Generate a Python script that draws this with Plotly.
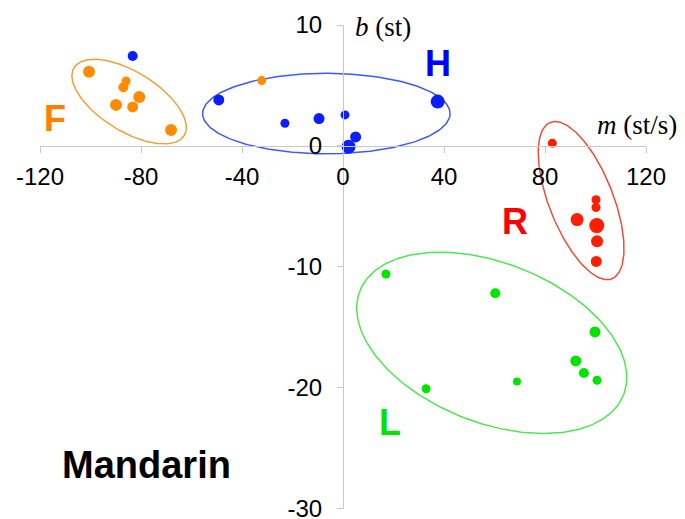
import numpy as np
import plotly.graph_objects as go

# Slope m (st/s) and intercept b (st) for each tone category
f_m = [-100.6, -85.9, -87.0, -80.7, -89.9, -83.3, -68.1, -32.2]
f_b = [6.14, 5.37, 4.85, 4.05, 3.39, 3.22, 1.32, 5.4]
f_size = [12, 9, 10, 12, 12, 11, 12, 9]

h_m = [-83.3, -49.2, -23.0, -9.5, 0.8, 5.0, 2.2, 37.5]
h_b = [7.44, 3.80, 1.87, 2.26, 2.56, 0.74, -0.08, 3.66]
h_size = [10, 11, 9, 11, 9, 11, 14, 14]

r_m = [82.9, 100.2, 100.2, 92.7, 100.5, 100.6, 100.3]
r_b = [0.22, -4.46, -5.1, -6.1, -6.6, -7.9, -9.56]
r_size = [9, 9, 9, 13, 15, 12, 11]

l_m = [17.0, 60.3, 99.8, 92.2, 95.4, 100.6, 68.9, 32.9]
l_b = [-10.6, -12.2, -15.4, -17.8, -18.8, -19.4, -19.5, -20.1]
l_size = [9, 10, 11, 11, 10, 9, 8, 9]

# Cluster ellipses: centre and two conjugate semi-axis vectors (data units)
f_ell = dict(c=(-84.7, 3.66), u=(21.8, -2.81), v=(-6.18, -2.09))
h_ell = dict(c=(-6.6, 2.67), u=(49.0, 0.0), v=(0.0, 3.33))
r_ell = dict(c=(94.3, -4.53), u=(-12.2, 6.47), v=(11.83, 0.97))
l_ell = dict(c=(58.9, -16.3), u=(52.2, -4.31), v=(-11.65, -6.14))

x_ticks = [-120, -80, -40, 0, 40, 80, 120]
y_ticks = [10, 0, -10, -20, -30]

ORANGE = "rgb(255,140,0)"
BLUE = "rgb(10,30,255)"
RED = "rgb(255,30,0)"
GREEN = "rgb(0,228,0)"

SANS = "Liberation Sans, Arial, Helvetica, sans-serif"
SERIF = "Liberation Serif, Times New Roman, serif"


def ellipse_xy(e, n=240):
    t = np.linspace(0, 2 * np.pi, n)
    cx, cy = e["c"]
    ux, uy = e["u"]
    vx, vy = e["v"]
    return cx + ux * np.cos(t) + vx * np.sin(t), cy + uy * np.cos(t) + vy * np.sin(t)


fig = go.Figure()

for ell, col in [(f_ell, "rgb(240,160,60)"), (h_ell, "rgb(60,90,235)"),
                 (r_ell, "rgb(230,80,60)"), (l_ell, "rgb(80,230,80)")]:
    ex, ey = ellipse_xy(ell)
    fig.add_trace(go.Scatter(x=ex, y=ey, mode="lines",
                             line=dict(color=col, width=1.5),
                             hoverinfo="skip", showlegend=False))

for xs, ys, ss, col in [(f_m, f_b, f_size, ORANGE), (h_m, h_b, h_size, BLUE),
                        (r_m, r_b, r_size, RED), (l_m, l_b, l_size, GREEN)]:
    fig.add_trace(go.Scatter(x=xs, y=ys, mode="markers",
                             marker=dict(color=col, size=ss, opacity=1,
                                         line=dict(width=0)),
                             showlegend=False))

labels = [("F", -114.1, 2.29, "rgb(255,128,0)"),
          ("H", 37.7, 6.83, "rgb(0,0,255)"),
          ("R", 68.1, -6.25, "rgb(255,0,0)"),
          ("L", 18.6, -22.9, "rgb(0,228,0)")]
for txt, lx, ly, col in labels:
    fig.add_annotation(x=lx, y=ly, text=txt, showarrow=False,
                       font=dict(family=SANS, size=36, color=col, weight="bold"))

fig.add_annotation(x=-78.0, y=-26.45, text="Mandarin", showarrow=False,
                   font=dict(family=SANS, size=38, color="black", weight="bold"))

fig.add_annotation(x=116.6, y=1.74, text="<i>m</i> (st/s)", showarrow=False,
                   font=dict(family=SERIF, size=27, color="black"))
fig.add_annotation(x=15.8, y=9.83, text="<i>b</i> (st)", showarrow=False,
                   font=dict(family=SERIF, size=27, color="black"))

fig.update_layout(
    width=685, height=519,
    margin=dict(l=40, r=39, t=25, b=10, autoexpand=False),
    plot_bgcolor="white", paper_bgcolor="white",
    font=dict(family=SANS, size=24, color="black"),
    xaxis=dict(range=[-120, 120], tickvals=x_ticks, ticktext=[str(v) for v in x_ticks],
               anchor="free", position=0.75, showline=True, linecolor="rgb(200,200,200)",
               linewidth=1.2, ticks="outside", ticklen=6, tickcolor="rgb(200,200,200)",
               tickwidth=1.2, showgrid=False, zeroline=False, ticklabelstandoff=3,
               ticklabeloverflow="allow", automargin=False),
    yaxis=dict(range=[-30.05, 10], tickvals=y_ticks, ticktext=[str(v) for v in y_ticks],
               anchor="free", position=0.5, showline=True, linecolor="rgb(200,200,200)",
               linewidth=1.2, ticks="outside", ticklen=6, tickcolor="rgb(200,200,200)",
               tickwidth=1.2, showgrid=False, zeroline=False, ticklabelstandoff=10,
               ticklabeloverflow="allow", automargin=False),
)

fig.write_html("out.html")
